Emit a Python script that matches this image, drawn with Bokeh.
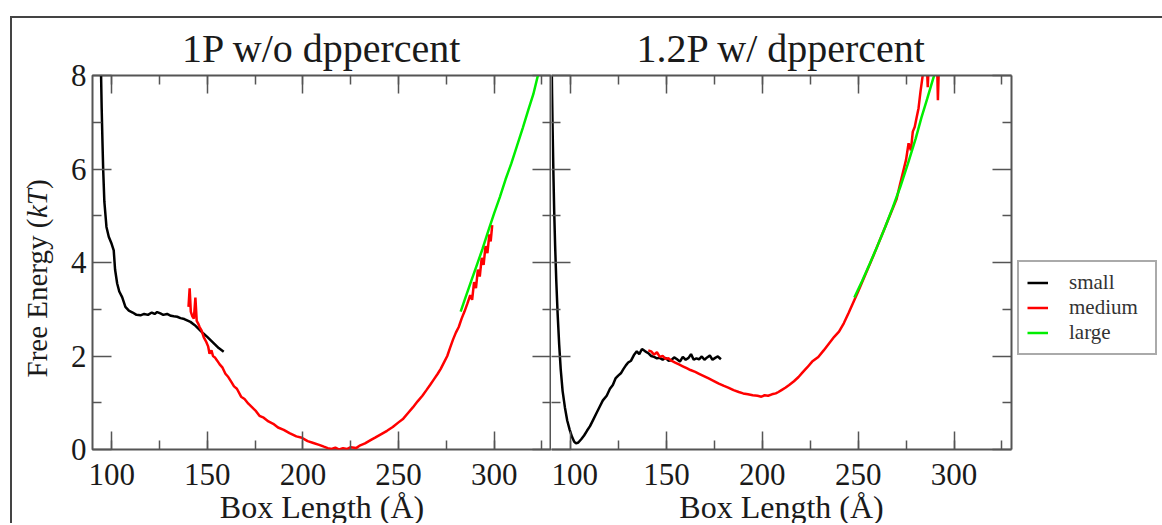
import math
from bokeh.plotting import figure
from bokeh.models import (Range1d, LinearAxis, FixedTicker, Legend, LegendItem,
                          CustomJSTickFormatter)
from bokeh.layouts import row
from bokeh.embed import file_html
from bokeh.resources import INLINE
from bokeh.core.properties import value

# ---------------- data ----------------
left_titles = "1P w/o dppercent"
right_titles = "1.2P w/ dppercent"
x_title = "Box Length (Å)"
y_title_parts = ["Free Energy (", "kT", ")"]
series_names = ["small", "medium", "large"]
x_ticks = [100, 150, 200, 250, 300]
x_minor = [100, 125, 150, 175, 200, 225, 250, 275, 300, 325]
y_ticks = [0, 2, 4, 6, 8]
y_minor = [1, 3, 5, 7]

left_small_x = [94.2, 94.5, 94.8, 95.2, 95.6, 96.2, 97.3, 98.5, 100.0, 101.1, 101.8, 102.9, 104.0,
                105.5, 107.2, 109.0, 111.0, 113.0, 115.1, 117.0, 119.0, 121.0, 122.5, 123.8, 125.5,
                127.0, 129.0, 131.0, 132.5, 134.3, 136.0, 138.0, 141.2, 143.5, 146.0, 148.0, 150.0,
                152.0, 154.0, 156.0, 158.6]
left_small_y = [8.3, 7.97, 7.3, 6.6, 5.97, 5.3, 4.76, 4.55, 4.4, 4.26, 3.85, 3.55, 3.38, 3.26, 3.05,
                2.97, 2.93, 2.88, 2.87, 2.90, 2.88, 2.93, 2.90, 2.94, 2.91, 2.88, 2.90, 2.86, 2.85,
                2.84, 2.81, 2.79, 2.73, 2.66, 2.56, 2.48, 2.41, 2.33, 2.25, 2.17, 2.09]

left_medium_x = [140.2, 140.8, 141.4, 142.2, 143.0, 143.8, 144.5, 145.2, 146.0, 147.0, 148.2, 149.5,
                 150.5, 151.2, 152.2, 153.0, 154.0, 155.2, 156.5, 158.0, 159.5, 161.0, 162.5, 164.0,
                 165.5, 167.7, 169.5, 171.5, 173.5, 175.5, 177.3, 179.5, 182.0, 184.5, 187.0, 190.0,
                 193.0, 196.6, 199.5, 202.5, 205.5, 208.5, 211.0, 213.0, 215.0, 217.0, 219.0, 221.0,
                 223.0, 225.0, 227.8, 230.0, 232.5, 235.4, 238.0, 241.0, 244.0, 247.0, 250.0, 252.5,
                 255.0, 257.5, 260.0, 262.5, 264.6, 266.5, 268.5, 270.5, 272.0, 274.0, 275.5, 277.0,
                 278.5, 280.0, 281.5, 283.0, 284.5, 286.0, 287.5, 288.5, 289.5, 290.5, 291.5, 292.5,
                 293.5, 294.5, 295.5, 296.5, 297.5, 298.2, 299.0]
left_medium_y = [3.05, 3.45, 2.95, 2.85, 2.8, 3.25, 2.75, 2.7, 2.62, 2.55, 2.4, 2.3, 2.2, 2.05, 2.12,
                 2.0, 1.97, 1.9, 1.82, 1.75, 1.62, 1.55, 1.45, 1.35, 1.3, 1.13, 1.08, 0.98, 0.9, 0.82,
                 0.72, 0.68, 0.6, 0.55, 0.47, 0.42, 0.35, 0.28, 0.25, 0.18, 0.14, 0.1, 0.06, 0.03,
                 0.01, 0.04, 0.0, 0.03, 0.01, 0.05, 0.03, 0.09, 0.13, 0.2, 0.26, 0.33, 0.4, 0.48,
                 0.58, 0.66, 0.78, 0.9, 1.03, 1.15, 1.27, 1.38, 1.5, 1.62, 1.72, 1.88, 2.0, 2.18,
                 2.35, 2.5, 2.62, 2.8, 2.95, 3.12, 3.3, 3.2, 3.58, 3.45, 3.85, 3.7, 4.1, 3.95, 4.35,
                 4.2, 4.6, 4.45, 4.8]

left_large_x = [282.5, 285.0, 288.0, 291.0, 294.0, 297.0, 300.0, 303.0, 306.0, 309.0, 312.0, 315.0,
                318.0, 320.5, 323.0, 324.0]
left_large_y = [2.95, 3.25, 3.6, 3.95, 4.3, 4.68, 5.05, 5.4, 5.78, 6.12, 6.5, 6.88, 7.28, 7.6, 8.02,
                8.2]

right_small_x = [90.1, 90.3, 90.6, 91.0, 91.4, 91.9, 92.5, 93.2, 94.0, 94.8, 95.8, 97.0, 98.2, 99.5,
                 100.7, 101.8, 102.8, 104.0, 105.5, 107.0, 108.5, 110.1, 111.8, 113.5, 115.2, 116.8,
                 118.8, 120.5, 122.0, 123.4, 124.8, 126.2, 127.5, 128.8, 130.0, 131.5, 133.0, 134.5,
                 135.8, 137.2, 138.9, 140.5, 142.0, 143.5, 145.0, 146.5, 148.0, 149.5, 151.0, 152.5,
                 154.0, 155.5, 157.0, 158.5, 160.0, 161.5, 162.8, 164.2, 165.6, 167.0, 168.4, 169.8,
                 171.2, 172.6, 174.0, 175.4, 176.8, 178.4]
right_small_y = [8.3, 7.6, 6.8, 5.9, 5.1, 4.35, 3.6, 2.9, 2.25, 1.72, 1.25, 0.9, 0.62, 0.42, 0.27,
                 0.17, 0.13, 0.15, 0.22, 0.3, 0.4, 0.5, 0.64, 0.78, 0.92, 1.05, 1.15, 1.3, 1.38, 1.52,
                 1.58, 1.63, 1.72, 1.8, 1.86, 1.9, 2.02, 2.1, 2.04, 2.15, 2.1, 2.06, 2.0, 1.98, 1.95,
                 1.96, 1.92, 1.96, 1.9, 1.91, 1.97, 1.93, 1.88, 1.98, 1.92, 1.96, 2.04, 1.92, 1.95,
                 1.93, 1.99, 1.92, 1.97, 2.01, 1.92, 1.96, 1.99, 1.93]

right_medium_x = [140.5, 142.0, 143.5, 145.0, 146.5, 148.0, 149.5, 151.0, 152.5, 154.5, 156.5, 158.5,
                  160.5, 162.5, 165.0, 167.0, 169.5, 172.0, 174.5, 177.3, 180.0, 182.5, 185.0, 187.7,
                  190.0, 192.5, 195.0, 197.5, 199.5, 201.2, 203.0, 205.0, 207.0, 208.4, 210.0, 212.0,
                  214.0, 216.5, 218.9, 221.0, 223.5, 226.0, 229.2, 232.0, 235.0, 237.5, 240.0, 242.5,
                  245.0, 247.5, 250.0, 252.5, 255.0, 257.5, 260.0, 262.5, 265.0, 267.5, 270.0, 272.0,
                  273.5, 275.0, 276.3, 277.5, 278.5, 279.5, 280.5, 281.5, 282.5, 283.5, 284.5, 285.5,
                  286.3, 287.0, 288.0, 289.0, 290.0, 291.0, 291.6, 292.3]
right_medium_y = [2.12, 2.1, 2.03, 2.08, 1.98, 2.0, 1.94, 1.95, 1.9, 1.86, 1.82, 1.78, 1.74, 1.7,
                  1.66, 1.62, 1.57, 1.52, 1.47, 1.41, 1.36, 1.32, 1.27, 1.23, 1.2, 1.18, 1.16, 1.15,
                  1.13, 1.16, 1.15, 1.18, 1.2, 1.23, 1.27, 1.32, 1.38, 1.46, 1.55, 1.65, 1.76, 1.88,
                  1.98, 2.12, 2.28, 2.41, 2.52, 2.7, 2.92, 3.15, 3.38, 3.62, 3.86, 4.1, 4.35, 4.6,
                  4.85, 5.1, 5.35, 5.7, 5.95, 6.2, 6.55, 6.4, 6.8, 6.9, 7.1, 7.3, 7.65, 7.95, 8.3,
                  8.6, 7.75, 8.4, 8.7, 8.55, 8.3, 8.6, 7.47, 8.5]

right_large_x = [248.0, 252.0, 256.0, 260.0, 264.0, 268.0, 272.0, 276.0, 280.0, 283.0, 286.0, 289.4,
                 290.5]
right_large_y = [3.25, 3.6, 3.97, 4.35, 4.75, 5.17, 5.62, 6.12, 6.65, 7.1, 7.5, 7.97, 8.15]

# ---------------- layout constants ----------------
XMIN, XMAX = 90, 330
YMIN, YMAX = 0, 8
FONT = "Liberation Serif"
AX = "#555555"
TXT = "#1a1a1a"
H = 530            # canvas height (bottom part clipped by the row, like the reference)
VISIBLE_H = 507
TOP = 57
FRAME_H = 374
FRAME_W = 460
BOTTOM = H - TOP - FRAME_H
COLORS = ["black", "#ff0000", "#00ee00"]
YLAB_W = 50
P1_W = 489
P2_W = FRAME_W + 2
LEG_W = 1162 - 12 - YLAB_W - P1_W - P2_W


def tick_axis(ax, ticks, minor, show_labels, major_len, line=False):
    ax.ticker = FixedTicker(ticks=ticks, minor_ticks=minor)
    if line:
        ax.axis_line_color = AX
        ax.axis_line_width = 2
    else:
        ax.axis_line_color = None
    ax.major_tick_in = major_len
    ax.major_tick_out = 0
    ax.minor_tick_in = 9
    ax.minor_tick_out = 0
    ax.major_tick_line_color = AX
    ax.minor_tick_line_color = AX
    ax.major_tick_line_width = 1.5
    ax.minor_tick_line_width = 1.5
    if show_labels:
        ax.major_label_text_font = FONT
        ax.major_label_text_font_size = "31px"
        ax.major_label_text_color = TXT
    else:
        ax.formatter = CustomJSTickFormatter(code="return ''")
        ax.major_label_text_font_size = "0px"
        ax.major_label_standoff = 0


def panel(title, width, mbl, mbr, first):
    p = figure(width=width, height=H, x_range=Range1d(XMIN, XMAX), y_range=Range1d(YMIN, YMAX),
               output_backend="svg", toolbar_location=None, title=title,
               min_border_left=mbl, min_border_right=mbr, min_border_top=TOP,
               min_border_bottom=BOTTOM)
    p.grid.visible = False
    if first:
        p.outline_line_color = AX
        p.outline_line_width = 2
    else:
        p.outline_line_color = None
    p.background_fill_color = "white"
    p.border_fill_color = "white"
    p.title.text_font = FONT
    p.title.text_font_style = "normal"
    p.title.text_font_size = "40px"
    p.title.text_color = TXT
    p.title.align = "center"
    p.title.standoff = 10
    xa = p.xaxis[0]
    tick_axis(xa, x_ticks, x_minor, True, 18, line=not first)
    xa.major_label_standoff = 14
    xa.axis_label = x_title
    xa.axis_label_text_font = FONT
    xa.axis_label_text_font_style = "normal"
    xa.axis_label_text_font_size = "32px"
    xa.axis_label_text_color = TXT
    xa.axis_label_standoff = 1
    tick_axis(p.yaxis[0], y_ticks, y_minor, first, 19)
    if first:
        p.yaxis[0].major_label_standoff = 6
    top = LinearAxis()
    tick_axis(top, x_ticks, x_minor, False, 18, line=not first)
    p.add_layout(top, "above")
    right = LinearAxis()
    tick_axis(right, y_ticks, y_minor, False, 19, line=not first)
    p.add_layout(right, "right")
    return p


def blank(width, xr, yr):
    f = figure(width=width, height=H, x_range=xr, y_range=yr,
               output_backend="svg", toolbar_location=None, min_border_left=0,
               min_border_right=0, min_border_top=TOP, min_border_bottom=BOTTOM)
    f.axis.visible = False
    f.grid.visible = False
    f.outline_line_color = None
    f.border_fill_color = "white"
    f.background_fill_color = "white"
    return f


# narrow strip holding the rotated y-axis title (with italic kT); frame aligned with panels
ylab = blank(YLAB_W, Range1d(0, 1), Range1d(0, FRAME_H))
fs = 29
widths = [5.498, 1.0, 0.333]
styles = ["normal", "italic", "normal"]
pos = 72.0
for txt, st, w in zip(y_title_parts, styles, widths):
    ylab.text(x=[0.48], y=[pos], text=[txt], angle=math.pi / 2,
              text_font=value(FONT), text_font_style=value(st), text_font_size=value(f"{fs}px"),
              text_color=TXT, text_align="left", text_baseline="middle")
    pos += w * fs

p1 = panel(left_titles, P1_W, 80 - YLAB_W, 0, True)
p2 = panel(right_titles, P2_W, 0, P2_W - FRAME_W, False)

lw = 2.5
p1.line(left_small_x, left_small_y, line_color=COLORS[0], line_width=lw)
p1.line(left_medium_x, left_medium_y, line_color=COLORS[1], line_width=lw)
p1.line(left_large_x, left_large_y, line_color=COLORS[2], line_width=lw)

p2.line(right_small_x, right_small_y, line_color=COLORS[0], line_width=lw)
p2.line(right_medium_x, right_medium_y, line_color=COLORS[1], line_width=lw)
p2.line(right_large_x, right_large_y, line_color=COLORS[2], line_width=lw)

# legend strip to the right of the second panel; its key renderers carry the right-panel
# series, which fall outside this strip's ranges so only the legend keys are visible
leg = blank(LEG_W, Range1d(0, 1), Range1d(0, 1))
key_data = [(right_small_x, right_small_y), (right_medium_x, right_medium_y),
            (right_large_x, right_large_y)]
keys = [leg.line(x=kx, y=ky, line_color=c, line_width=lw) for (kx, ky), c in zip(key_data, COLORS)]
legend = Legend(items=[LegendItem(label=n, renderers=[r]) for n, r in zip(series_names, keys)],
                location=(4, 94))
legend.border_line_color = AX
legend.border_line_width = 2
legend.background_fill_color = "white"
legend.background_fill_alpha = 1
legend.label_text_font = FONT
legend.label_text_font_size = "21px"
legend.label_text_color = "#333333"
legend.glyph_width = 21
legend.glyph_height = 25
legend.label_height = 25
legend.label_width = 78
legend.label_standoff = 21
legend.padding = 8
legend.spacing = 0
legend.margin = 0
leg.add_layout(legend)

layout = row(ylab, p1, p2, leg, margin=(16, 0, 0, 10),
             styles={"border-top": "2px solid #444444", "border-left": "2px solid #444444",
                     "max-height": f"{VISIBLE_H}px", "overflow": "hidden"})

open("out.html", "w").write(file_html(layout, INLINE))
